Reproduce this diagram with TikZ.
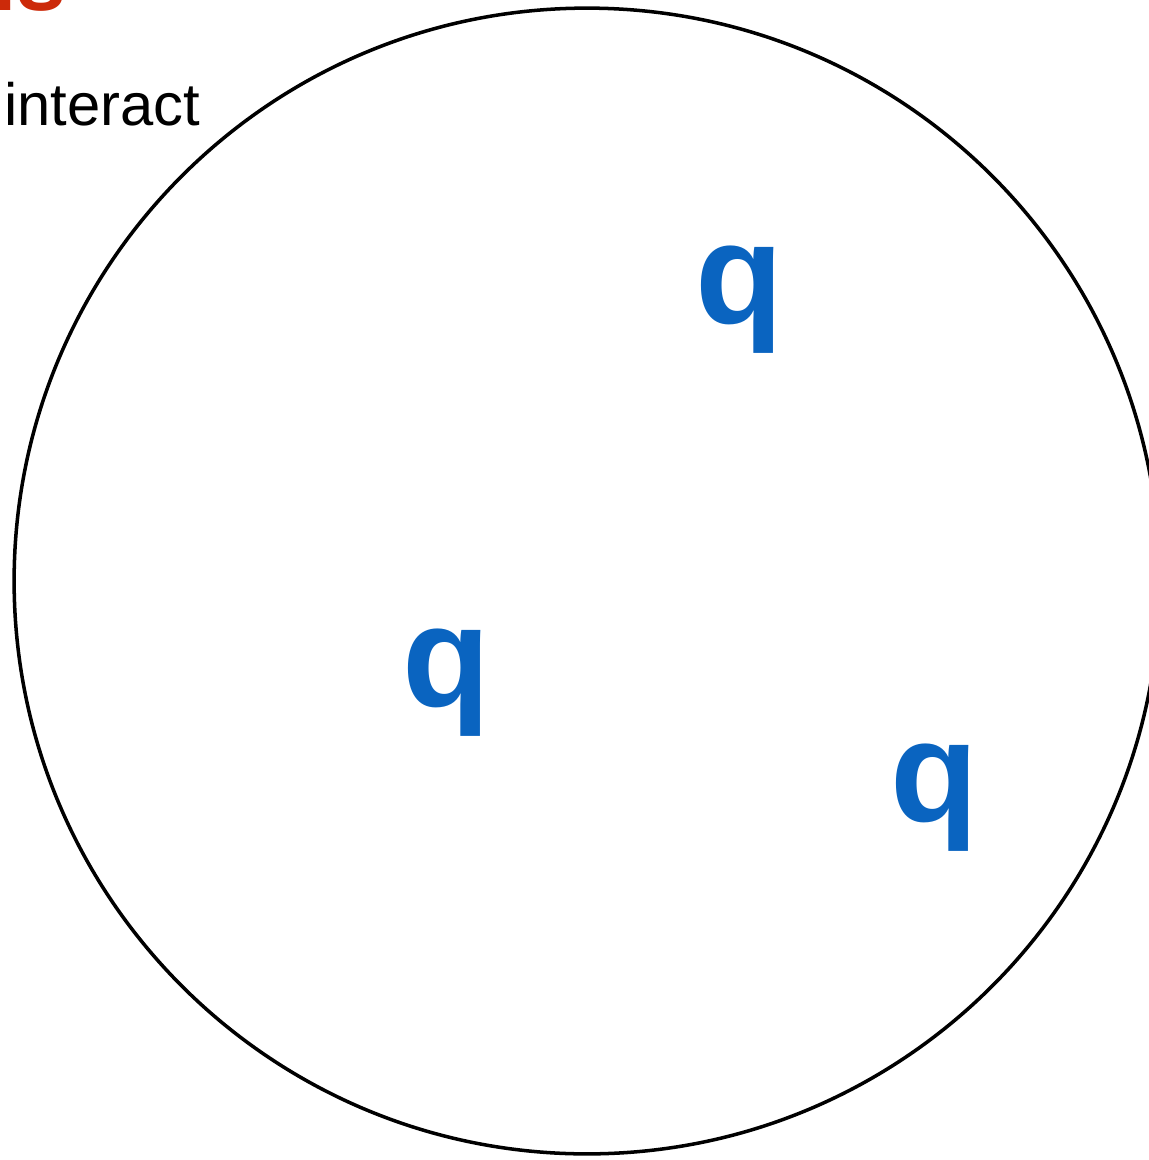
\documentclass[tikz,border=0pt]{standalone}
\usepackage{fontspec}
\setmainfont{Liberation Sans}
\definecolor{quarkblue}{RGB}{10,100,192}
\definecolor{titlered}{RGB}{204,42,10}
\tikzset{
    quark/.style={text=quarkblue, inner sep=0pt, font=\fontsize{82}{82}\selectfont\bfseries},
    bag/.style={draw=black, line width=2pt}
}
\begin{document}
\begin{tikzpicture}[
    % 1 unidade = 1 pixel da figura
    x=0.02cm, y=-0.02cm
]

    % ==========================================
    % 1. MOLDURA
    % ==========================================
    \useasboundingbox (0,0) rectangle (1149,1160);
    \clip (0,0) rectangle (1149,1160);

    % ==========================================
    % 2. TEXTOS DO CANTO
    % ==========================================
    \node[anchor=base west, inner sep=0pt, text=titlered,
          font=\fontsize{51}{51}\selectfont\bfseries] (titulo) at (-39,10) {ns};
    \node[anchor=base west, inner sep=0pt,
          font=\fontsize{34}{34}\selectfont] (interact) at (4,125) {interact};

    % ==========================================
    % 3. CIRCULO E QUARKS
    % ==========================================
    \coordinate (centro) at (587,581);
    \draw[bag] (centro) circle[radius=11.46cm];

    \node[quark] (qa) at (739,300) {q};
    \node[quark] (qb) at (446,683) {q};
    \node[quark] (qc) at (934,798) {q};

\end{tikzpicture}
\end{document}
